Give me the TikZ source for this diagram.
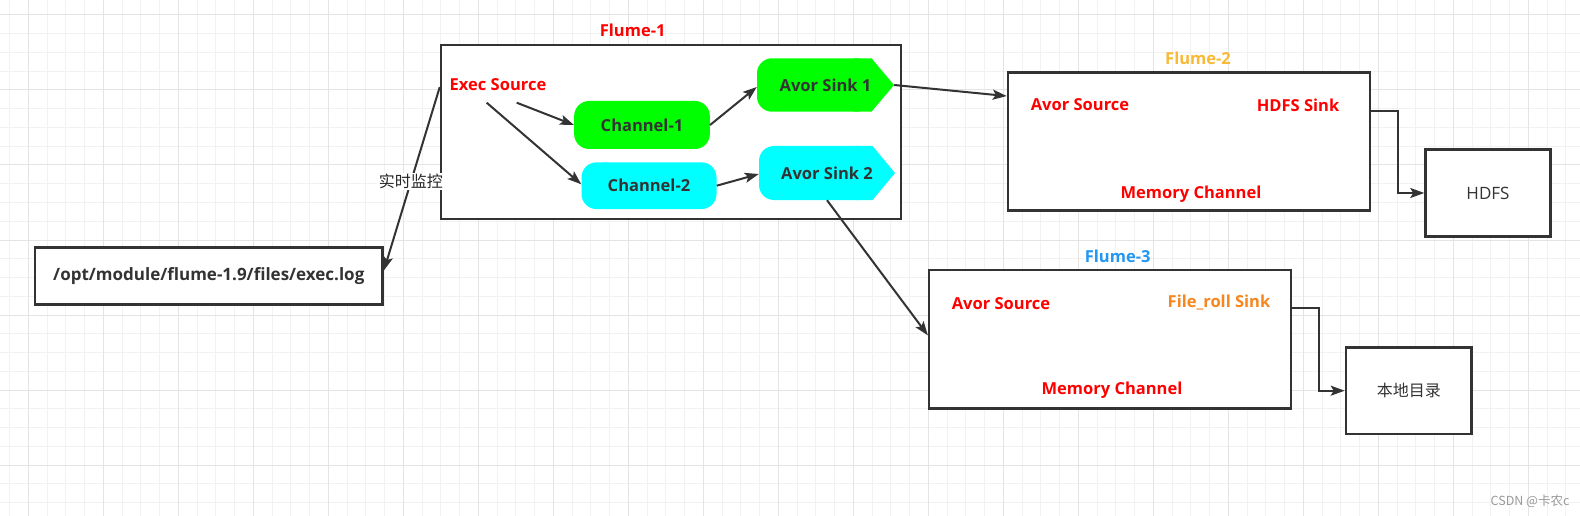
\documentclass[tikz,border=0pt]{standalone}
\usepackage{fontspec}
\setmainfont{Open Sans}
\newfontfamily\cjk{Noto Sans CJK SC}
\usetikzlibrary{arrows.meta,calc}
\definecolor{dk}{HTML}{333333}
\definecolor{fred}{HTML}{FF0000}
\definecolor{fyellow}{HTML}{F9B934}
\definecolor{fblue}{HTML}{2196F3}
\definecolor{forange}{HTML}{F7861E}
\definecolor{cgreen}{HTML}{00FF00}
\definecolor{ccyan}{HTML}{00FFFF}
\definecolor{gminor}{RGB}{242,242,242}
\definecolor{gmajor}{RGB}{228,228,228}
\tikzset{
  bigbox/.style={draw=dk, line width=2.5pt, fill=white, inner sep=0pt},
  chan/.style={rounded corners=15pt, inner sep=0pt, text=dk, font=\bfseries\fontsize{16.5}{19}\selectfont},
  lbl/.style={inner sep=0pt, font=\bfseries\fontsize{16.5}{19}\selectfont},
  conn/.style={draw=dk, line width=2pt, -{Stealth[length=14pt,width=10pt,inset=3pt]}},
  elbow/.style={draw=dk, line width=2pt, -{Stealth[length=14pt,width=10pt,inset=3pt]}},
  sinkshape/.style={path picture={
    \fill[#1, rounded corners=15pt] (path picture bounding box.south west) rectangle ([xshift=-22.5pt]path picture bounding box.north east);
    \fill[#1] ([xshift=-40pt]path picture bounding box.north east) -- ([xshift=-22.5pt]path picture bounding box.north east) -- (path picture bounding box.east) -- ([xshift=-22.5pt]path picture bounding box.south east) -- ([xshift=-40pt]path picture bounding box.south east) -- cycle;
  }},
}
\begin{document}
\begin{tikzpicture}[x=1pt,y=-1pt]
\useasboundingbox (0,0) rectangle (1580,516);
\fill[white] (0,0) rectangle (1580,516);
% grid
\foreach \i in {0,...,84} \draw[gminor, line width=1pt] ({9.55+18.75*\i},0) -- ({9.55+18.75*\i},516);
\foreach \i in {0,...,27} \draw[gminor, line width=1pt] (0,{15+18.75*\i}) -- (1580,{15+18.75*\i});
\foreach \i in {0,...,21} \draw[gmajor, line width=1pt] ({28.3+75*\i},0) -- ({28.3+75*\i},516);
\foreach \i in {0,...,6} \draw[gmajor, line width=1pt] (0,{15+75*\i}) -- (1580,{15+75*\i});

% big boxes
\node[bigbox, minimum width=460pt, minimum height=174pt] (f1) at (671,132) {};
\node[bigbox, minimum width=362pt, minimum height=138.4pt] (f2) at (1189,141.5) {};
\node[bigbox, minimum width=361.7pt, minimum height=138.7pt] (f3) at (1110,339.3) {};
\node[bigbox, minimum width=125pt, minimum height=87.4pt, font=\fontsize{17}{20}\selectfont, text=dk] (hdfs) at (1488,193) {HDFS};
\node[bigbox, minimum width=125.7pt, minimum height=86.7pt, font=\cjk\fontsize{16}{19}\selectfont, text=dk] (local) at (1408.8,390.7) {本地目录};
\node[bigbox, minimum width=347.7pt, minimum height=57pt, font=\bfseries\fontsize{17}{20}\selectfont, text=dk] (log) at (208.8,275.8) {/opt/module/flume-1.9/files/exec.log};

% titles
\node[lbl, text=fred] (t1) at (632.7,30) {Flume-1};
\node[lbl, text=fyellow] (t2) at (1198,58.3) {Flume-2};
\node[lbl, text=fblue] (t3) at (1117.7,256) {Flume-3};

% Flume-1 content
\node[lbl, text=fred] (exec) at (498,84.3) {Exec Source};
\node[chan, fill=cgreen, minimum width=135.7pt, minimum height=48pt] (ch1) at (642,125) {Channel-1};
\node[chan, fill=ccyan, minimum width=135pt, minimum height=46.7pt] (ch2) at (649,185.7) {Channel-2};
\node[lbl, text=dk, sinkshape=cgreen, minimum width=137pt, minimum height=53.4pt] (s1) at (825.5,85) {Avor Sink 1};
\node[lbl, text=dk, sinkshape=ccyan, minimum width=136pt, minimum height=54pt] (s2) at (827,173) {Avor Sink 2};

% Flume-2 content
\node[lbl, text=fred] (src2) at (1080,105) {Avor Source};
\node[lbl, text=fred] (sink2) at (1298,105) {HDFS Sink};
\node[lbl, text=fred] (mem2) at (1191,194) {Memory Channel};

% Flume-3 content
\node[lbl, text=fred] (src3) at (1001,303.3) {Avor Source};
\node[lbl, text=forange] (sink3) at (1219,303) {File\_roll Sink};
\node[lbl, text=fred] (mem3) at (1112,390.7) {Memory Channel};

% watermark
\node[inner sep=0pt, text=gray!80, font=\cjk\fontsize{12.5}{14}\selectfont] (wm) at (1530,501) {CSDN @卡农c};

% connectors
\coordinate (fa) at ($(f1.north west)+(0,43.3)$);
\coordinate (la) at ($(log.north east)+(0,24.4)$);
\draw[conn] (fa) -- node[pos=0.515, fill=white, inner sep=1.5pt, text=black!85, font=\cjk\fontsize{16}{19}\selectfont] (lbl1) {实时监控} (la);

\coordinate (e1) at (516.7,102.7);
\coordinate (e2) at (486.7,102.7);
\draw[conn] (e1) -- (ch1.west);
\draw[conn] (e2) -- ($(ch2.west)+(0,-1.4)$);
\draw[conn] (ch1.east) -- ($(s1.west)+(0,2)$);
\draw[conn] (ch2.east) -- ($(s2.west)+(0,1)$);
\draw[conn] (s1.east) -- ($(f2.north west)+(0,25)$);
\draw[conn] (s2.south) -- ($(f3.north west)+(0,66.7)$);
\draw[elbow] ($(f2.north east)+(0,40.4)$) -- ++(26.7,0) |- (hdfs.west);
\draw[elbow] ($(f3.north east)+(0,39.3)$) -- ++(26.7,0) |- (local.west);
\end{tikzpicture}
\end{document}
